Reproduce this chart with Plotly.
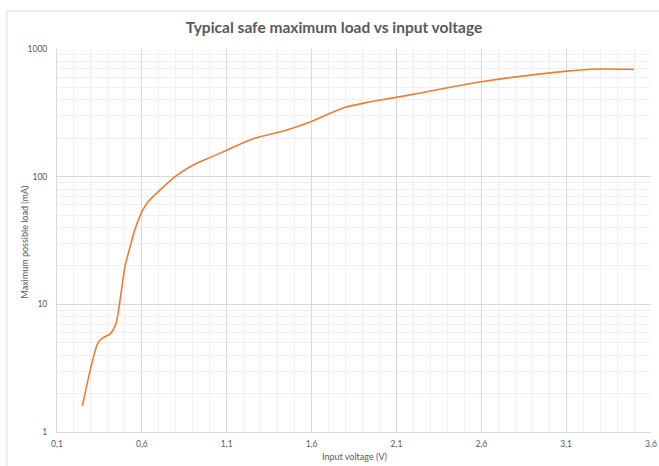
import plotly.graph_objects as go

# Data
voltage = [0.25, 0.345, 0.375, 0.415, 0.445, 0.46, 0.48, 0.50, 0.53, 0.56, 0.60, 0.63,
           0.80, 0.90, 1.0, 1.1, 1.26, 1.45, 1.59, 1.79, 1.94, 2.09, 2.24,
           2.59, 3.09, 3.30, 3.50]
load_ma = [1.6, 5.1, 5.5, 5.9, 6.9, 8.5, 13, 19.6, 28, 39, 53, 62,
           101, 123, 141, 161, 199, 231, 268, 347, 384, 416, 452,
           551, 668, 697, 692]

x_ticks = [0.1, 0.6, 1.1, 1.6, 2.1, 2.6, 3.1, 3.6]
x_tick_labels = ["0,1", "0,6", "1,1", "1,6", "2,1", "2,6", "3,1", "3,6"]
y_ticks = [1, 10, 100, 1000]
y_tick_labels = ["1", "10", "100", "1000"]

W, H = 659, 466
L, R, T, B = 56.7, 8, 48.5, 34

fig = go.Figure()
fig.add_trace(go.Scatter(
    x=voltage, y=load_ma, mode="lines",
    line=dict(color="#ED7D31", width=1.6, shape="spline", smoothing=0.8),
    hoverinfo="x+y", showlegend=False,
))

text_col = "#595959"
font_family = "Lato, 'Open Sans', sans-serif"
major_grid = "#d9d9d9"
minor_grid = "#f0f0f0"

pw = W - L - R
ph = H - T - B

fig.update_layout(
    width=W, height=H,
    margin=dict(l=L, r=R, t=T, b=B, pad=0, autoexpand=False),
    paper_bgcolor="white", plot_bgcolor="white",
    font=dict(family=font_family, color=text_col, size=9),
    title=dict(text="<b>Typical safe maximum load vs input voltage</b>",
               x=334 / W, xanchor="center", xref="container",
               y=1 - 28 / H, yanchor="middle", yref="container",
               font=dict(size=15.5, color=text_col, family=font_family)),
    xaxis=dict(
        range=[0.1, 3.6], tickvals=x_ticks, ticktext=x_tick_labels,
        showgrid=True, gridcolor=major_grid, gridwidth=1,
        showline=True, linecolor=major_grid, linewidth=1,
        zeroline=False, ticks="", ticklabelstandoff=4, automargin=False,
        minor=dict(dtick=0.1, tick0=0.1, showgrid=True, gridcolor=minor_grid, gridwidth=1),
        tickfont=dict(size=8.5),
    ),
    yaxis=dict(
        type="log", range=[0, 3], tickvals=y_ticks, ticktext=y_tick_labels,
        showgrid=True, gridcolor=major_grid, gridwidth=1,
        showline=True, linecolor=major_grid, linewidth=1,
        zeroline=False, ticks="", ticklabelstandoff=7, automargin=False,
        minor=dict(dtick="D1", showgrid=True, gridcolor=minor_grid, gridwidth=1),
        tickfont=dict(size=8.5),
    ),
    annotations=[
        dict(text="Input voltage (V)", xref="paper", yref="paper",
             x=0.5, y=-(457 - (H - B)) / ph, xanchor="center", yanchor="middle",
             showarrow=False, font=dict(size=9, color=text_col)),
        dict(text="Maximum possible load (mA)", xref="paper", yref="paper",
             x=(24 - L) / pw, y=1 - (242 - T) / ph, xanchor="center", yanchor="middle",
             textangle=-90, showarrow=False, font=dict(size=9, color=text_col)),
    ],
    shapes=[dict(type="rect", xref="paper", yref="paper",
                 x0=(6.5 - L) / pw, x1=(W + 5 - L) / pw,
                 y0=-(B + 5) / ph, y1=1 + (T - 10.5) / ph,
                 line=dict(color="#d9d9d9", width=1), fillcolor="rgba(0,0,0,0)",
                 layer="below")],
)

fig.write_html("out.html")
